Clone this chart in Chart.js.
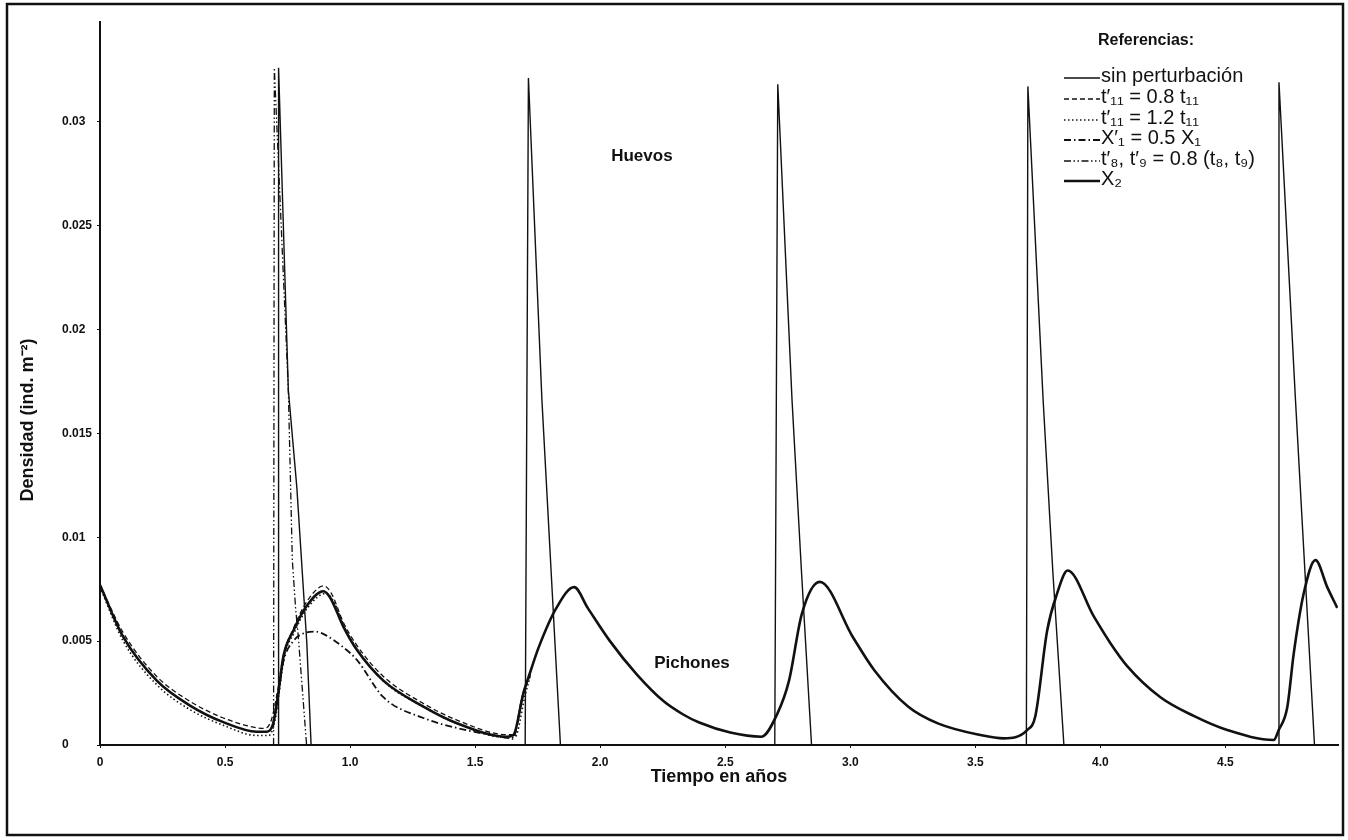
<!DOCTYPE html>
<html>
<head>
<meta charset="utf-8">
<script src="https://cdn.jsdelivr.net/npm/chart.js@4.4.0/dist/chart.umd.min.js"></script>
<style>
html, body { margin: 0; padding: 0; background: #fff; }
#wrap { width: 1348px; height: 840px; position: relative; }
</style>
</head>
<body>
<div id="wrap"><canvas id="densidadChart"></canvas></div>
<script>
'use strict'
// tiempo en años / densidad (ind. m-2)

// huevos, sin perturbación
var huevosT = [0, 0.712, 0.714, 0.753, 0.787, 0.827, 0.844, 1.700, 1.713, 1.767, 1.804, 1.841,
    2.698, 2.710, 2.767, 2.805, 2.845, 3.704, 3.710, 3.771, 3.810, 3.854, 4.711, 4.714, 4.780, 4.818, 4.856, 4.95];
var huevosD = [0, 0, 0.0326, 0.0171, 0.0124, 0.0049, 0, 0, 0.0321, 0.0166, 0.0083, 0,
    0, 0.0318, 0.0166, 0.0083, 0, 0, 0.0317, 0.0166, 0.0083, 0, 0, 0.0319, 0.0166, 0.0083, 0, 0];

// pichones (X2)
var pichonesT = [0, 0.093, 0.227, 0.36, 0.493, 0.627, 0.667, 0.693, 0.713, 0.733, 0.773, 0.827, 0.893, 0.92,
    0.973, 1.027, 1.133, 1.293, 1.427, 1.627, 1.653, 1.693, 1.72, 1.754, 1.825, 1.896, 1.95, 2.039, 2.146, 2.254,
    2.33, 2.396, 2.52, 2.645, 2.708, 2.755, 2.806, 2.878, 3.01, 3.096, 3.232, 3.35, 3.52, 3.613, 3.707, 3.74, 3.787,
    3.827, 3.869, 3.973, 4.04, 4.107, 4.24, 4.373, 4.507, 4.693, 4.713, 4.747, 4.773, 4.813, 4.86, 4.907, 4.947];
var pichonesD = [0.0077, 0.0052, 0.0031, 0.0019, 0.0011, 0.00064, 0.00064, 0.00106, 0.0025, 0.00425, 0.0055, 0.0067, 0.0074, 0.0071,
    0.0057, 0.00458, 0.0031, 0.00185, 0.00105, 0.0004, 0.00048, 0.0025, 0.0035, 0.0047, 0.0066, 0.0076, 0.0066, 0.0050, 0.0034, 0.0021,
    0.00148, 0.00108, 0.0006, 0.0004, 0.0015, 0.0031, 0.0063, 0.00785, 0.0052, 0.0036, 0.00184, 0.00104, 0.00048, 0.00032, 0.00072, 0.0014, 0.0055,
    0.0073, 0.0084, 0.0062, 0.0049, 0.0038, 0.0023, 0.0014, 0.00072, 0.00024, 0.00072, 0.0018, 0.0044, 0.0073, 0.0089, 0.0076, 0.0066];

// t'11 = 0.8 t11
var t11cortoT = [0, 0.093, 0.227, 0.36, 0.493, 0.627, 0.66, 0.685, 0.71, 0.733, 0.773, 0.827, 0.895, 0.925,
    0.973, 1.027, 1.133, 1.293, 1.427, 1.627, 1.655, 1.69, 1.72];
var t11cortoD = [0.0077, 0.0054, 0.0033, 0.0021, 0.0013, 0.00083, 0.0008, 0.0012, 0.0026, 0.0043, 0.0056, 0.0069, 0.00766, 0.0073,
    0.0059, 0.0048, 0.0033, 0.0020, 0.0012, 0.0005, 0.0005, 0.0023, 0.0034];

// t'11 = 1.2 t11
var t11largoT = [0, 0.093, 0.227, 0.36, 0.493, 0.627, 0.675, 0.70, 0.716, 0.736, 0.776, 0.83, 0.905, 0.935,
    0.98, 1.035, 1.14, 1.30, 1.435, 1.635, 1.66, 1.70, 1.72];
var t11largoD = [0.0076, 0.0050, 0.0029, 0.0017, 0.00095, 0.00046, 0.00046, 0.0012, 0.0025, 0.0042, 0.0054, 0.0066, 0.0073, 0.0069,
    0.0056, 0.0045, 0.0030, 0.0018, 0.0010, 0.00035, 0.0004, 0.0024, 0.0033];

// X'1 = 0.5 X1
var x1T = [0.693, 0.713, 0.733, 0.773, 0.82, 0.86, 0.90, 0.973, 1.027, 1.133, 1.293, 1.427, 1.627, 1.65, 1.69, 1.72];
var x1D = [0.00106, 0.0025, 0.0040, 0.0050, 0.0054, 0.00546, 0.0053, 0.0047, 0.0041, 0.0023, 0.0013, 0.00082, 0.00034, 0.0003, 0.0024, 0.0034];

// t'8, t'9 = 0.8 (t8, t9), huevos
var t8t9T = [0.694, 0.697, 0.753, 0.769, 0.782, 0.793, 0.826];
var t8t9D = [0, 0.0326, 0.0171, 0.0089, 0.0066, 0.0052, 0];

var xTicks = [0, 0.5, 1.0, 1.5, 2.0, 2.5, 3.0, 3.5, 4.0, 4.5];
var xTickLabels = ['0', '0.5', '1.0', '1.5', '2.0', '2.5', '3.0', '3.5', '4.0', '4.5'];
var yTicks = [0, 0.005, 0.01, 0.015, 0.02, 0.025, 0.03];
var yTickLabels = ['0', '0.005', '0.01', '0.015', '0.02', '0.025', '0.03'];

var ink = '#111';
var fuente = '"Liberation Sans", Arial, Helvetica, sans-serif';
Chart.defaults.font.family = fuente;
Chart.defaults.color = ink;

function puntos(ts, ds) {
    return ts.map(function (t, i) { return { x: t, y: ds[i] }; });
}

var datasets = [
    { label: 'sin perturbación', data: puntos(huevosT, huevosD), borderWidth: 1.4, borderDash: [] },
    { label: 't′₁₁ = 0.8 t₁₁', data: puntos(t11cortoT, t11cortoD), borderWidth: 1.3, borderDash: [5, 3], cubicInterpolationMode: 'monotone' },
    { label: 't′₁₁ = 1.2 t₁₁', data: puntos(t11largoT, t11largoD), borderWidth: 1.6, borderDash: [1.5, 2.5], cubicInterpolationMode: 'monotone' },
    { label: 'X′₁ = 0.5 X₁', data: puntos(x1T, x1D), borderWidth: 1.8, borderDash: [7, 3, 1.5, 3], cubicInterpolationMode: 'monotone' },
    { label: 't′₈, t′₉ = 0.8 (t₈, t₉)', data: puntos(t8t9T, t8t9D), borderWidth: 1.3, borderDash: [7, 2.5, 1.5, 2.5, 1.5, 2.5] },
    { label: 'X₂', data: puntos(pichonesT, pichonesD), borderWidth: 2.6, borderDash: [], cubicInterpolationMode: 'monotone' }
];
datasets.forEach(function (d) {
    d.borderColor = ink;
    d.backgroundColor = ink;
    d.fill = false;
    d.pointRadius = 0;
});

// marco, titulo del eje y, rotulos y referencias
var extras = {
    id: 'extras',
    beforeDraw: function (chart) {
        var ctx = chart.ctx;
        ctx.save();
        ctx.fillStyle = '#fff';
        ctx.fillRect(0, 0, chart.width, chart.height);
        ctx.restore();
    },
    afterDraw: function (chart) {
        var ctx = chart.ctx;
        var xs = chart.scales.x, ys = chart.scales.y;
        ctx.save();
        ctx.strokeStyle = ink;
        ctx.fillStyle = ink;
        ctx.lineWidth = 2.5;
        ctx.strokeRect(7, 4, 1336, 831);

        // titulo eje y
        ctx.save();
        ctx.translate(28, 420);
        ctx.rotate(-Math.PI / 2);
        ctx.font = 'bold 18px ' + fuente;
        ctx.textAlign = 'center';
        ctx.textBaseline = 'middle';
        ctx.fillText('Densidad (ind. m⁻²)', 0, 0);
        ctx.restore();

        // rotulos de las curvas
        ctx.font = 'bold 17px ' + fuente;
        ctx.textAlign = 'left';
        ctx.textBaseline = 'alphabetic';
        ctx.fillText('Huevos', xs.getPixelForValue(2.044), ys.getPixelForValue(0.0281));
        ctx.fillText('Pichones', xs.getPixelForValue(2.216), ys.getPixelForValue(0.00371));

        // referencias
        ctx.font = 'bold 16px ' + fuente;
        ctx.fillText('Referencias:', 1098, 45);
        var baselines = [82, 103, 124, 144, 165, 185];
        ctx.font = '20px ' + fuente;
        datasets.forEach(function (d, i) {
            var yb = baselines[i];
            ctx.beginPath();
            ctx.setLineDash(d.borderDash);
            ctx.lineWidth = d.borderWidth;
            ctx.moveTo(1064, yb - 4);
            ctx.lineTo(1100, yb - 4);
            ctx.stroke();
            ctx.setLineDash([]);
            ctx.fillText(d.label, 1101, yb);
        });
        ctx.restore();
    }
};

var densidadChart = new Chart(document.getElementById('densidadChart'), {
    type: 'line',
    data: { datasets: datasets },
    plugins: [extras],
    options: {
        responsive: true,
        maintainAspectRatio: false,
        animation: false,
        layout: { padding: { left: 62, right: 10, top: 22, bottom: 0 } },
        elements: { line: { tension: 0 } },
        plugins: {
            legend: { display: false },
            tooltip: { enabled: false }
        },
        scales: {
            x: {
                type: 'linear',
                min: 0,
                max: 4.95,
                afterBuildTicks: function (scale) {
                    scale.ticks = xTicks.map(function (v) { return { value: v }; });
                },
                afterFit: function (scale) { scale.height = 95; },
                ticks: {
                    autoSkip: false,
                    maxRotation: 0,
                    padding: 7,
                    font: { size: 12, weight: 'bold' },
                    callback: function (v, i) { return xTickLabels[i]; }
                },
                grid: { drawOnChartArea: false, drawTicks: true, tickLength: 3, color: ink },
                border: { display: true, color: ink, width: 2 },
                title: {
                    display: true,
                    text: 'Tiempo en años',
                    font: { size: 18, weight: 'bold' },
                    padding: { top: 0, bottom: 52 }
                }
            },
            y: {
                type: 'linear',
                min: 0,
                max: 0.0348,
                afterBuildTicks: function (scale) {
                    scale.ticks = yTicks.map(function (v) { return { value: v }; });
                },
                afterFit: function (scale) { scale.width = 38; },
                ticks: {
                    crossAlign: 'far',
                    font: { size: 12, weight: 'bold' },
                    callback: function (v, i) { return yTickLabels[i]; }
                },
                grid: { drawOnChartArea: false, drawTicks: true, tickLength: 3, color: ink },
                border: { display: true, color: ink, width: 2 }
            }
        }
    }
});
</script>
</body>
</html>
